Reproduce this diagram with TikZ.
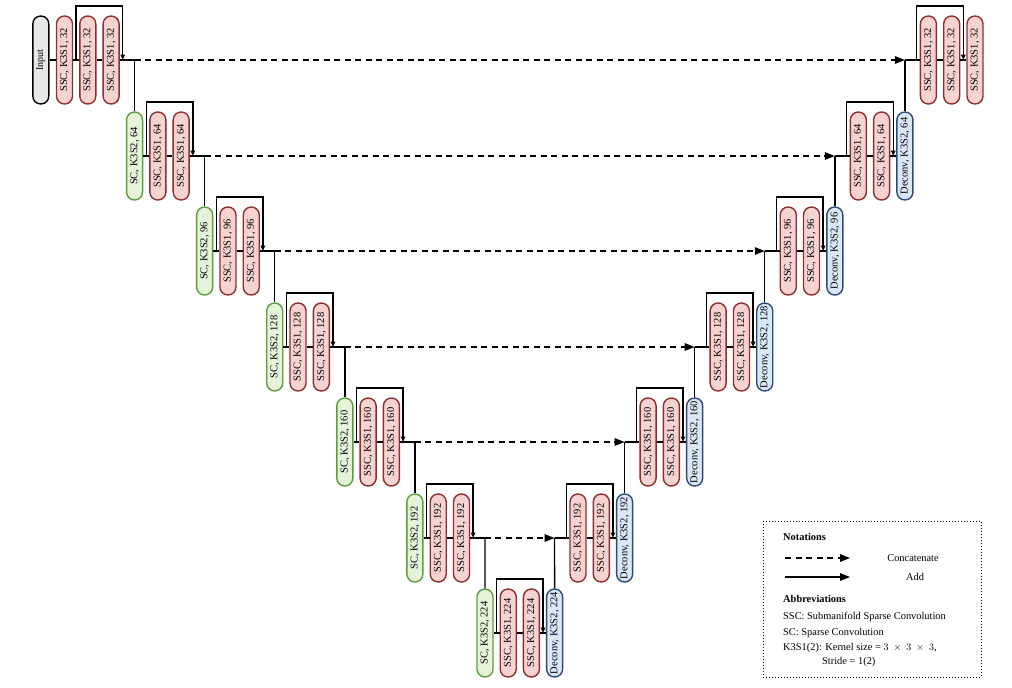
\documentclass[tikz,border=0pt]{standalone}
\usepackage{fontspec}
\setmainfont{Liberation Serif}
\usetikzlibrary{arrows.meta,calc}
\definecolor{ssfill}{HTML}{F6D3D1}
\definecolor{ssdraw}{HTML}{8E2E2E}
\definecolor{scfill}{HTML}{E4F3DA}
\definecolor{scdraw}{HTML}{5E9D3A}
\definecolor{dcfill}{HTML}{DAE7F7}
\definecolor{dcdraw}{HTML}{2C4B76}
\definecolor{infill}{HTML}{E8E8E8}
\tikzset{
  pill/.style={draw, rounded corners=7.9pt, rotate=90, minimum width=88pt, minimum height=16pt,
    inner sep=0pt, line width=1.4pt, font=\fontsize{10.5}{12}\selectfont},
  ssc/.style={pill, fill=ssfill, draw=ssdraw},
  sc/.style={pill, fill=scfill, draw=scdraw},
  dc/.style={pill, fill=dcfill, draw=dcdraw},
  inp/.style={pill, fill=infill, draw=black, font=\fontsize{10}{11}\selectfont},
  conn/.style={line width=1.4pt},
  skiparrow/.style={conn, -{Triangle[length=5.5pt,width=4.5pt]}},
  cat/.style={line width=1.4pt, dash pattern=on 6pt off 4.5pt, -{Triangle[length=10pt,width=7.5pt]}},
  addarrow/.style={line width=1.4pt, -{Triangle[length=10pt,width=7.5pt]}},
  legtext/.style={font=\fontsize{10.4}{12}\selectfont, inner sep=0pt},
}
\begin{document}
\begin{tikzpicture}[x=1pt,y=1pt]
\useasboundingbox (0,-688) rectangle (1012,0);

% ---------- level 0 ----------
\node[inp] (in) at (40.8,-60) {Input};
\node[ssc] (L0a) at (64.5,-60) {SSC, K3S1, 32};
\node[ssc] (L0b) at (87.8,-60) {SSC, K3S1, 32};
\node[ssc] (L0c) at (111.1,-60) {SSC, K3S1, 32};
\node[ssc] (R0a) at (928.4,-60) {SSC, K3S1, 32};
\node[ssc] (R0b) at (951.7,-60) {SSC, K3S1, 32};
\node[ssc] (R0c) at (975,-60) {SSC, K3S1, 32};

% ---------- levels 1..5 ----------
\foreach \k/\c in {1/64,2/96,3/128,4/160,5/192} {
  \pgfmathsetmacro\xl{64.5+70.08*\k}
  \pgfmathsetmacro\xr{975-70.08*\k}
  \pgfmathsetmacro\yy{-round(60+95.5*\k)}
  \node[sc]  (L\k a) at (\xl,\yy) {SC, K3S2, \c};
  \node[ssc] (L\k b) at (\xl+23.3,\yy) {SSC, K3S1, \c};
  \node[ssc] (L\k c) at (\xl+46.6,\yy) {SSC, K3S1, \c};
  \node[ssc] (R\k a) at (\xr-46.6,\yy) {SSC, K3S1, \c};
  \node[ssc] (R\k b) at (\xr-23.3,\yy) {SSC, K3S1, \c};
  \node[dc]  (R\k c) at (\xr,\yy) {Deconv, K3S2, \c};
}

% ---------- level 6 ----------
\node[sc]  (L6a) at (485,-633) {SC, K3S2, 224};
\node[ssc] (L6b) at (508.2,-633) {SSC, K3S1, 224};
\node[ssc] (L6c) at (531.4,-633) {SSC, K3S1, 224};
\node[dc]  (R6c) at (554.6,-633) {Deconv, K3S2, 224};

% ---------- connections levels 0..5 ----------
\draw[conn] (in) -- (L0a);
\foreach \k in {0,1,2,3,4,5} {
  \pgfmathtruncatemacro\kn{\k+1}
  \pgfmathsetmacro\xln{64.5+70.08*\kn}
  \pgfmathsetmacro\xrn{975-70.08*\kn}
  \pgfmathsetmacro\yy{-round(60+95.5*\k)}
  \coordinate (JL\k) at (\xln,\yy);
  \coordinate (JR\k) at (\xrn,\yy);
  % encoder row
  \draw[conn] (L\k a) -- (L\k b) -- (L\k c) -- (JL\k);
  \coordinate (SL\k) at ($(L\k a)!0.5!(L\k b)$);
  \coordinate (EL\k) at ($(L\k c)+(11.65,0)$);
  \draw[skiparrow] (SL\k) -- ++(0,54) -| (EL\k);
  \draw[conn] (JL\k) -- (L\kn a);
  % skip concatenation
  \draw[cat] (JL\k) -- (JR\k);
  % decoder row
  \draw[conn] (JR\k) -- (R\k a) -- (R\k b) -- (R\k c);
  \coordinate (SR\k) at ($(R\k a)+(-11.65,0)$);
  \coordinate (ER\k) at ($(R\k b)!0.5!(R\k c)$);
  \draw[skiparrow] (SR\k) -- ++(0,54) -| (ER\k);
  \draw[conn] (R\kn c) -- (JR\k);
}

% ---------- level 6 connections ----------
\draw[conn] (L6a) -- (L6b) -- (L6c) -- (R6c);
\coordinate (SL6) at ($(L6a)!0.5!(L6b)$);
\coordinate (EL6) at ($(L6c)+(11.65,0)$);
\draw[skiparrow] (SL6) -- ++(0,54) -| (EL6);

% ---------- legend ----------
\draw[dotted, line width=1pt] (763,-521) rectangle (981,-677);
\node[legtext, anchor=west, font=\fontsize{10.4}{12}\selectfont\bfseries] (notat) at (783,-537) {Notations};
\coordinate (c1s) at (785,-558);
\coordinate (c1e) at (850,-558);
\draw[cat] (c1s) -- (c1e);
\node[legtext] (catlab) at (913,-558) {Concatenate};
\coordinate (c2s) at (785,-577);
\coordinate (c2e) at (850,-577);
\draw[addarrow] (c2s) -- (c2e);
\node[legtext] (addlab) at (915,-577) {Add};
\node[legtext, anchor=west, font=\fontsize{10.4}{12}\selectfont\bfseries] (abbr) at (783,-599) {Abbreviations};
\node[legtext, anchor=west] (ab1) at (783,-617) {SSC: Submanifold Sparse Convolution};
\node[legtext, anchor=west] (ab2) at (783,-633) {SC: Sparse Convolution};
\node[legtext, anchor=west] (ab3) at (783,-648) {K3S1(2): Kernel size = $3\;\times\;3\;\times\;3$,};
\node[legtext, anchor=west] (ab4) at (822,-662) {Stride = 1(2)};
\end{tikzpicture}
\end{document}
